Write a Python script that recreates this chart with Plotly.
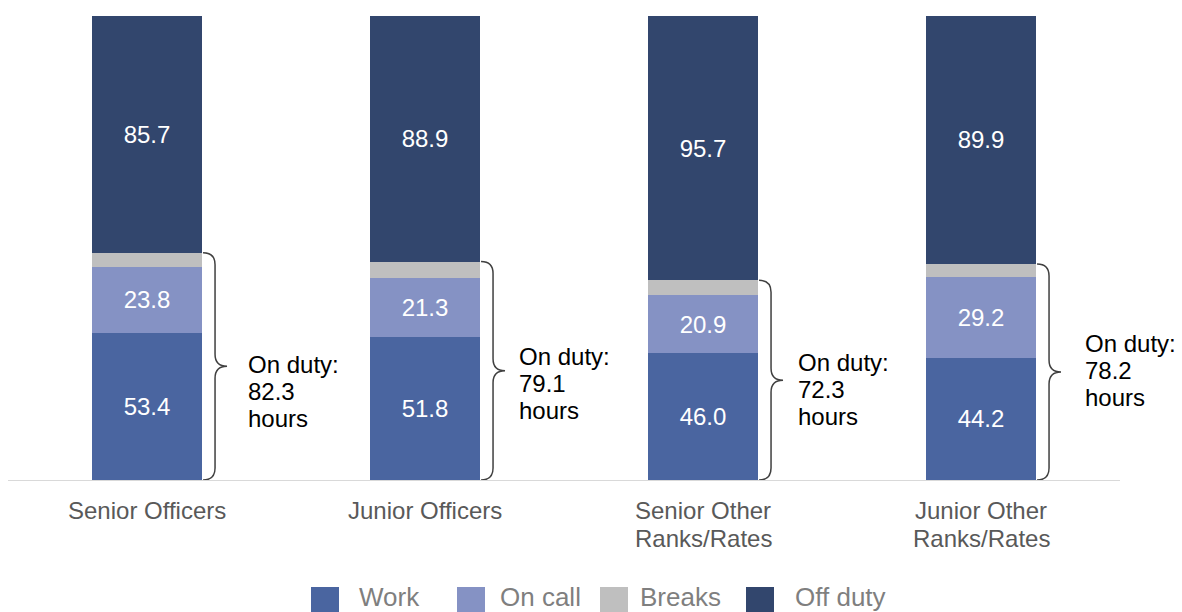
import plotly.graph_objects as go

# Average hours per week (168 h) by personnel group
categories = [["Senior Officers"], ["Junior Officers"],
              ["Senior Other", "Ranks/Rates"], ["Junior Other", "Ranks/Rates"]]
series_names = ["Work", "On call", "Breaks", "Off duty"]
work = [53.4, 51.8, 46.0, 44.2]
on_call = [23.8, 21.3, 20.9, 29.2]
breaks = [5.1, 6.0, 5.4, 4.8]
off_duty = [85.7, 88.9, 95.7, 89.9]
on_duty = [82.3, 79.1, 72.3, 78.2]

colors = ["#4A65A0", "#8592C4", "#BFBFBF", "#32466D"]
show_text = [True, True, False, True]
FONT = "Liberation Sans, Arial, sans-serif"

W, H = 1182, 612
L, R, T, B = 8, 62, 16, 132
plot_w = W - L - R
plot_h = H - T - B
BAR_W = 0.396

x = list(range(len(categories)))
fig = go.Figure()
for name, vals, col, txt in zip(series_names, [work, on_call, breaks, off_duty], colors, show_text):
    fig.add_trace(go.Bar(
        x=x, y=vals, name=name, width=BAR_W,
        marker=dict(color=col, line=dict(width=0)),
        texttemplate="%{y:.1f}" if txt else None,
        textposition="inside" if txt else "none",
        insidetextanchor="middle",
        textangle=0,
        textfont=dict(family=FONT, size=24, color="white"),
        showlegend=False,
        hoverinfo="skip",
    ))

# Curly braces spanning the on-duty part of each bar
px_x = 1.0 / (plot_w / len(categories))
px_y = 168.0 / plot_h
shapes = []
for i, top in enumerate(on_duty):
    xt = i + BAR_W / 2 + 1 * px_x
    xs = i + BAR_W / 2 + 13 * px_x
    xc = i + BAR_W / 2 + 25 * px_x
    r = 12 * px_y
    mid = top / 2
    path = (f"M {xt},{top} Q {xs},{top} {xs},{top - r} "
            f"L {xs},{mid + r} Q {xs},{mid} {xc},{mid} "
            f"Q {xs},{mid} {xs},{mid - r} "
            f"L {xs},{r} Q {xs},0 {xt},0")
    shapes.append(dict(type="path", xref="x", yref="y", path=path,
                       line=dict(color="#404040", width=1.5)))

# "On duty" labels beside each brace
label_dx = [0.356, 0.331, 0.335, 0.367]
label_y = [31.9, 35.1, 32.9, 39.5]
annotations = []
for i, val in enumerate(on_duty):
    for line, shift in zip(["On duty:", f"{val:.1f}", "hours"], [27, 0, -27]):
        annotations.append(dict(
            x=i + label_dx[i], y=label_y[i], xref="x", yref="y",
            text=line, showarrow=False, xanchor="left",
            yanchor="middle", yshift=shift,
            font=dict(family=FONT, size=24, color="#000000"),
        ))


def paper_x(px):
    return (px - L) / plot_w


def paper_y(py):
    return (H - B - py) / plot_h


# Category labels under the axis, one text per line
for i, lines in enumerate(categories):
    for k, line in enumerate(lines):
        annotations.append(dict(
            x=i, y=paper_y(510 + 28 * k), xref="x", yref="paper",
            text=line, showarrow=False, xanchor="center", yanchor="middle",
            font=dict(family=FONT, size=24, color="#595959"),
        ))

# Legend row
swatch_left = [311, 457, 600, 746]
text_left = [357, 498, 638, 793]
for name, col, sx, tx in zip(series_names, colors, swatch_left, text_left):
    shapes.append(dict(type="rect", xref="paper", yref="paper",
                       x0=paper_x(sx), x1=paper_x(sx + 28),
                       y0=paper_y(587), y1=paper_y(615),
                       fillcolor=col, line=dict(width=0)))
    annotations.append(dict(x=paper_x(tx), y=paper_y(596.5), xref="paper", yref="paper",
                            text=name, showarrow=False, xanchor="left", yanchor="middle",
                            font=dict(family=FONT, size=26, color="#7F7F7F")))

fig.update_layout(
    barmode="stack",
    width=W, height=H,
    margin=dict(l=L, r=R, t=T, b=B),
    paper_bgcolor="white", plot_bgcolor="white",
    shapes=shapes, annotations=annotations,
    xaxis=dict(range=[-0.5, len(categories) - 0.5], tickvals=x,
               showticklabels=False,
               showgrid=False, zeroline=False, showline=True, linecolor="#D9D9D9",
               linewidth=1, ticks=""),
    yaxis=dict(range=[0, 168], visible=False, showgrid=False, zeroline=False),
)

fig.write_html("out.html")
